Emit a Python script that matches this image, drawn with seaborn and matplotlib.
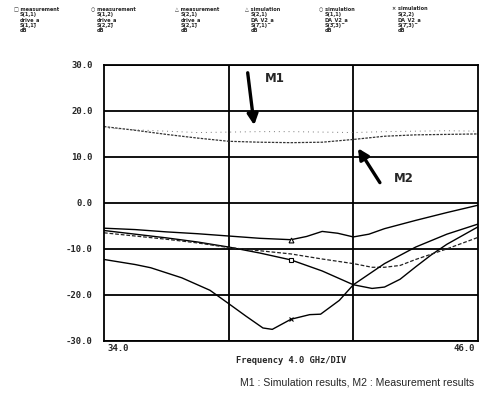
import matplotlib
matplotlib.use("Agg")
import matplotlib.pyplot as plt
import seaborn as sns
import pandas as pd

# ---- data ----
freq_a = [34, 35, 36, 37, 38, 39, 40, 40.5, 41, 41.5, 42, 42.5, 43, 44, 45, 46]
s_top = [-5.5, -5.8, -6.3, -6.7, -7.2, -7.7, -8.0, -7.3, -6.2, -6.6, -7.4, -6.8, -5.6, -3.8, -2.1, -0.5]

freq_b = [34, 35, 36, 37, 38, 39, 40, 41, 41.5, 42, 42.6, 43, 43.5, 44, 44.5, 45, 46]
s_mid = [-6.0, -6.8, -7.6, -8.5, -9.6, -10.9, -12.4, -14.8, -16.3, -17.8, -18.6, -18.3, -16.6, -13.9, -11.3, -9.0, -5.2]

freq_c = [34, 35, 36, 37, 38, 39, 40, 41, 42, 42.6, 43, 43.5, 44, 45, 46]
s_dash = [-6.5, -7.2, -7.9, -8.7, -9.7, -10.4, -11.1, -12.2, -13.2, -14.0, -14.0, -13.6, -12.3, -10.0, -7.5]

freq_d = [34, 35, 35.5, 36.5, 37.4, 38, 38.55, 39.1, 39.4, 40, 40.6, 40.95, 41.55, 42, 43, 44, 45, 46]
s_low = [-12.3, -13.4, -14.1, -16.3, -19.0, -21.9, -24.6, -27.2, -27.5, -25.3, -24.3, -24.2, -21.2, -17.8, -13.2, -9.6, -6.8, -4.6]

freq_g = [34, 35, 36, 37, 38, 39, 40, 41, 42, 43, 44, 45, 46]
gain_meas = [16.6, 15.8, 14.9, 14.1, 13.4, 13.2, 13.1, 13.2, 13.8, 14.5, 14.8, 14.9, 15.0]
gain_sim = [16.3, 15.9, 15.6, 15.3, 15.4, 15.5, 15.5, 15.4, 15.3, 15.5, 15.6, 15.7, 15.6]

y_ticks = [30, 20, 10, 0, -10, -20, -30]
y_labels = ["30.0", "20.0", "10.0", "0.0", "-10.0", "-20.0", "-30.0"]
x_start_label = "34.0"
x_end_label = "46.0"
x_axis_title = "Frequency 4.0 GHz/DIV"
caption = "M1 : Simulation results, M2 : Measurement results"

header_blocks = [
    ["\u25a1 measurement", "S(1,1)", "drive_a", "S(1,1)", "dB"],
    ["\u25cb measurement", "S(1,2)", "drive_a", "S(2,2)", "dB"],
    ["\u25b3 measurement", "S(2,1)", "drive_a", "S(2,1)", "dB"],
    ["\u25b3 simulation", "S(2,1)", "DA_V2_a", "S(7,1)", "dB"],
    ["\u25cb simulation", "S(1,1)", "DA_V2_a", "S(3,3)", "dB"],
    ["\u00d7 simulation", "S(2,2)", "DA_V2_a", "S(7,3)", "dB"],
]

# ---- build long-form table ----
frames = []
for name, fx, vy in [("top", freq_a, s_top), ("mid", freq_b, s_mid),
                     ("dash", freq_c, s_dash), ("low", freq_d, s_low),
                     ("gmeas", freq_g, gain_meas), ("gsim", freq_g, gain_sim)]:
    frames.append(pd.DataFrame({"freq": fx, "val": vy, "trace": name}))
df = pd.concat(frames, ignore_index=True)

sns.set_style("white")
plt.rcParams["font.family"] = ["DejaVu Sans"]

fig = plt.figure(figsize=(4.79, 4.01), dpi=100)
ax = fig.add_axes([0.217, 0.150, 0.781, 0.688])

styles = {
    "top": dict(ls="-", lw=1.0, color="black"),
    "mid": dict(ls="-", lw=1.0, color="black"),
    "dash": dict(ls=(0, (3, 1.5)), lw=0.9, color="#222222"),
    "low": dict(ls="-", lw=1.0, color="black"),
    "gmeas": dict(ls=(0, (2, 1)), lw=0.9, color="#333333"),
    "gsim": dict(ls=(0, (1, 4)), lw=0.7, color="#777777"),
}
for name, st in styles.items():
    sns.lineplot(data=df[df.trace == name], x="freq", y="val", ax=ax,
                 estimator=None, sort=False, legend=False,
                 linestyle=st["ls"], linewidth=st["lw"], color=st["color"])

# small trace markers
ax.plot(freq_a[6], s_top[6], marker="^", ms=3.5, mfc="white", mec="black", mew=0.8)
ax.plot(freq_b[6], s_mid[6], marker="s", ms=3.2, mfc="white", mec="black", mew=0.8)
ax.plot(freq_d[9], s_low[9], marker="x", ms=3.0, mec="black", mew=0.8)

ax.set_xlim(34, 46)
ax.set_ylim(-30, 30)
ax.set_xticks([38, 42])
ax.set_yticks(y_ticks)
ax.set_yticklabels(y_labels, fontfamily="DejaVu Sans Mono", fontweight="bold", fontsize=6.5)
ax.set_xticklabels([])
ax.tick_params(length=0, pad=8)
ax.grid(True, color="black", lw=1.3)
for sp in ax.spines.values():
    sp.set_color("black")
    sp.set_linewidth(1.3)
ax.set_xlabel("")
ax.set_ylabel("")

ax.text(34.1, -30.6, x_start_label, ha="left", va="top", fontsize=6.5,
        fontfamily="DejaVu Sans Mono", fontweight="bold")
ax.text(45.9, -30.6, x_end_label, ha="right", va="top", fontsize=6.5,
        fontfamily="DejaVu Sans Mono", fontweight="bold")
ax.text(40.0, -33.2, x_axis_title, ha="center", va="top", fontsize=6.3,
        fontfamily="DejaVu Sans Mono", fontweight="bold")

# annotations
ax.annotate("", xy=(38.83, 16.3), xytext=(38.6, 28.9),
            arrowprops=dict(arrowstyle="-|>", lw=2.4, mutation_scale=16, color="black"))
ax.text(39.15, 27.0, "M1", fontsize=8.5, fontweight="bold", ha="left", va="center")
ax.annotate("", xy=(42.1, 12.4), xytext=(42.9, 3.9),
            arrowprops=dict(arrowstyle="-|>", lw=2.4, mutation_scale=16, color="black"))
ax.text(43.3, 5.3, "M2", fontsize=8.5, fontweight="bold", ha="left", va="center")

# header
xs = [0.030, 0.190, 0.365, 0.512, 0.665, 0.818]
for x0, block in zip(xs, header_blocks):
    for i, line in enumerate(block):
        fig.text(x0 + (0.0 if i == 0 else 0.012), 0.985 - i * 0.014, line,
                 fontsize=3.6, fontweight="bold", ha="left", va="top")

fig.text(0.745, 0.045, caption, fontsize=7.6, fontfamily="Liberation Sans",
         ha="center", va="center")

fig.savefig("out.png", dpi=100, facecolor="white")
